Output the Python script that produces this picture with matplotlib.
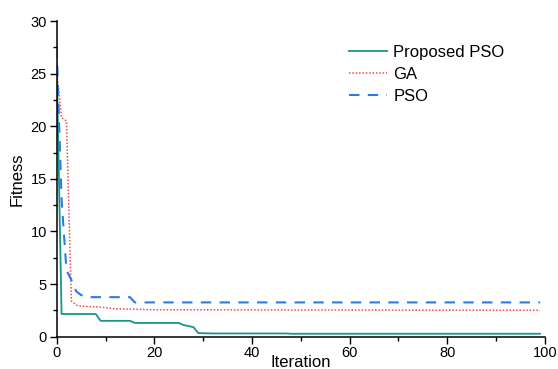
import matplotlib
matplotlib.use("Agg")
import matplotlib.pyplot as plt
from matplotlib.ticker import MultipleLocator

plt.rcParams['font.family'] = ['Liberation Sans', 'DejaVu Sans']

# Proposed PSO (breakpoints)
prop_x = [0, 1, 8, 9, 15, 16, 25, 26, 27, 28, 29, 32, 47, 48, 99]
prop_y = [26.0, 2.15, 2.15, 1.5, 1.5, 1.3, 1.3, 1.1, 1.0, 0.9, 0.33, 0.3, 0.3, 0.27, 0.27]

# GA
ga_x = [0, 1, 2, 3, 4, 5, 9, 12, 20, 99]
ga_y = [25.2, 20.8, 20.5, 3.4, 3.0, 2.9, 2.8, 2.65, 2.55, 2.5]

# PSO
pso_x = [0, 1, 2, 3, 4, 5, 6, 15, 16, 99]
pso_y = [27.5, 13.0, 6.3, 5.4, 4.3, 3.95, 3.75, 3.75, 3.25, 3.25]

labels = ["Proposed PSO", "GA", "PSO"]

fig = plt.figure(figsize=(5.58, 3.69), dpi=100)
ax = fig.add_axes([0.1016, 0.0878, 0.875, 0.8552])

ax.plot(prop_x, prop_y, color="#16968a", lw=1.3, label=labels[0])
ax.plot(ga_x, ga_y, color="#f0474a", lw=1.1, ls=(0, (1, 1.2)), label=labels[1])
ax.plot(pso_x, pso_y, color="#2e7be0", lw=1.5, ls=(0, (5, 4)), label=labels[2])

ax.set_xlim(0, 100)
ax.set_ylim(0, 30)
ax.xaxis.set_major_locator(MultipleLocator(20))
ax.xaxis.set_minor_locator(MultipleLocator(10))
ax.yaxis.set_major_locator(MultipleLocator(5))
ax.yaxis.set_minor_locator(MultipleLocator(2.5))
ax.tick_params(which="major", direction="out", length=5, width=1, labelsize=10.5, pad=2)
ax.tick_params(which="minor", direction="out", length=3, width=1)
for s in ["top", "right"]:
    ax.spines[s].set_visible(False)
for s in ["left", "bottom"]:
    ax.spines[s].set_linewidth(1.1)

ax.set_xlabel("Iteration", fontsize=12, labelpad=-4)
ax.set_ylabel("Fitness", fontsize=12, labelpad=4)

ax.legend(loc="upper left", bbox_to_anchor=(0.585, 0.945), frameon=False, fontsize=12,
          handlelength=2.3, handletextpad=0.35, labelspacing=0.42, borderaxespad=0)

fig.savefig("out.png", dpi=100)
